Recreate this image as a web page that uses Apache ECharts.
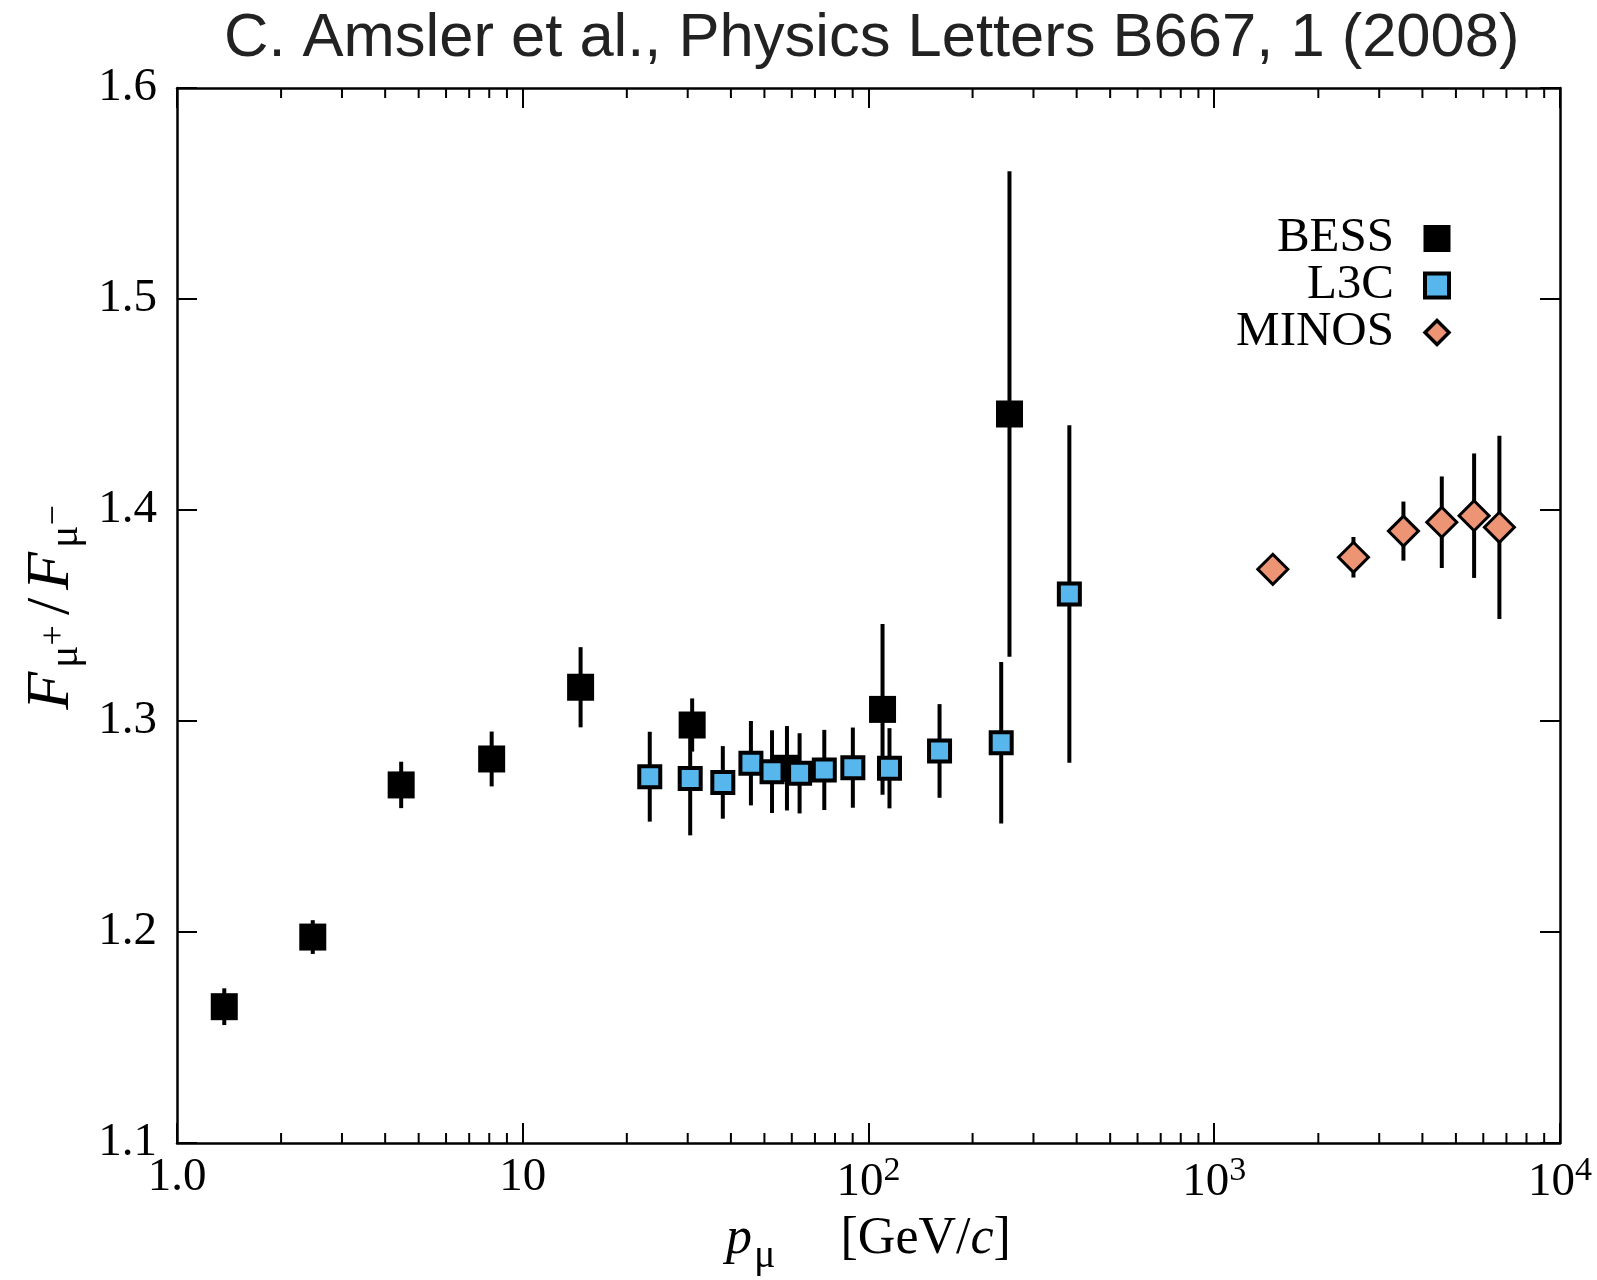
<!DOCTYPE html>
<html>
<head>
<meta charset="utf-8">
<script src="https://cdn.jsdelivr.net/npm/echarts@6/dist/echarts.min.js"></script>
<style>
  html, body { margin: 0; padding: 0; background: #fff; }
  #chart { width: 1597px; height: 1280px; }
</style>
</head>
<body>
<div id="chart"></div>
<script>
// BESS
var bessP   = [1.37, 2.47, 4.45, 8.13, 14.7, 30.9, 58.1, 109.8, 255.7];
var bessR   = [1.1646, 1.1976, 1.2697, 1.2820, 1.3160, 1.2981, 1.2776, 1.3055, 1.4455];
var bessErr = [0.0087, 0.008, 0.011, 0.013, 0.019, 0.0126, 0.02, 0.0405, 0.115];
// L3C
var l3cP   = [23.3, 30.5, 37.9, 45.7, 52.6, 63.2, 74.5, 90.1, 115, 160.5, 242, 381];
var l3cR   = [1.2736, 1.2728, 1.2709, 1.2800, 1.2760, 1.2752, 1.2768, 1.2779, 1.2776, 1.2858, 1.2897, 1.3602];
var l3cErr = [0.0213, 0.027, 0.0172, 0.020, 0.0196, 0.019, 0.019, 0.019, 0.019, 0.0222, 0.0383, 0.08];
// MINOS
var minosP   = [1477, 2527, 3525, 4551, 5644, 6679];
var minosR   = [1.3719, 1.3776, 1.3900, 1.3942, 1.3973, 1.3918];
var minosErr = [0.004, 0.0096, 0.014, 0.0217, 0.0295, 0.0434];

// axis ticks / labels
var xTickVals = [1, 10, 100, 1000, 10000];
var xTickBase = ['1.0', '10', '10', '10', '10'];
var xTickExp  = ['', '', '2', '3', '4'];
var xMinorTicks = [2, 3, 4, 5, 6, 7, 8, 9,
                   20, 30, 40, 50, 60, 70, 80, 90,
                   200, 300, 400, 500, 600, 700, 800, 900,
                   2000, 3000, 4000, 5000, 6000, 7000, 8000, 9000];
var yMin = 1.1, yMax = 1.6, yStep = 0.1;

var SERIF = 'Liberation Serif';

function pts(p, r){
	var out = [];
	for(var i = 0; i < p.length; i++){
		out.push([p[i], r[i]]);
	}
	return out;
}

function errs(p, r, e){
	var out = [];
	for(var i = 0; i < p.length; i++){
		out.push([p[i], r[i] - e[i], r[i] + e[i]]);
	}
	return out;
}

// vertical error bar
function renderErr(params, api){
	var a = api.coord([api.value(0), api.value(1)]);
	var b = api.coord([api.value(0), api.value(2)]);
	return {
		type: 'line',
		shape: {x1: a[0], y1: a[1], x2: b[0], y2: b[1]},
		style: {stroke: '#000', lineWidth: 4}
	};
}

// minor ticks on bottom and top axis
function renderMinor(params, api){
	var b = api.coord([api.value(0), yMin]);
	var t = api.coord([api.value(0), yMax]);
	return {
		type: 'group',
		children: [
			{type: 'line', shape: {x1: b[0], y1: b[1], x2: b[0], y2: b[1] - 10}, style: {stroke: '#000', lineWidth: 2}},
			{type: 'line', shape: {x1: t[0], y1: t[1], x2: t[0], y2: t[1] + 10}, style: {stroke: '#000', lineWidth: 2}}
		]
	};
}

var chart = echarts.init(document.getElementById('chart'));

var axisLine = {lineStyle: {color: '#000', width: 2.5}};
var tick = {inside: true, length: 20, lineStyle: {color: '#000', width: 2}};

var option = {
	animation: false,
	title: {
		text: 'C. Amsler et al., Physics Letters B667, 1 (2008)',
		left: 224,
		top: 8,
		padding: 0,
		textStyle: {fontFamily: 'Liberation Sans', fontWeight: 'normal', fontSize: 61.5, color: '#222'}
	},
	legend: {
		orient: 'vertical',
		align: 'right',
		right: 141,
		top: 209,
		itemWidth: 24,
		itemHeight: 24,
		itemGap: -2,
		selectedMode: false,
		textStyle: {fontFamily: SERIF, fontSize: 49, color: '#000', padding: [0, 26, 0, 0]},
		data: [
			{name: 'BESS', itemStyle: {borderColor: '#000', borderWidth: 3}},
			{name: 'L3C', itemStyle: {borderColor: '#000', borderWidth: 4}},
			{name: 'MINOS', icon: 'diamond', itemStyle: {borderColor: '#000', borderWidth: 3.5}}
		]
	},
	grid: {left: 177, right: 37, top: 88, bottom: 137, outerBoundsMode: 'none'},
	xAxis: [
		{
			type: 'log',
			logBase: 10,
			min: 1,
			max: 10000,
			axisLine: axisLine,
			axisTick: tick,
			splitLine: {show: false},
			name: '{i|p}{sub|μ}{n|     [GeV/}{i|c}{n|]}',
			nameLocation: 'middle',
			nameGap: 59,
			nameTextStyle: {
				rich: {
					i: {fontFamily: SERIF, fontStyle: 'italic', fontSize: 52, color: '#000'},
					n: {fontFamily: SERIF, fontSize: 52, color: '#000'},
					sub: {fontFamily: SERIF, fontSize: 40, color: '#000', padding: [34, 0, 0, 2]}
				}
			},
			axisLabel: {
				margin: 11,
				fontFamily: SERIF,
				fontSize: 47,
				color: '#000',
				formatter: function(v){
					var k = Math.round(Math.log(v) / Math.LN10);
					var s = xTickBase[k];
					if(xTickExp[k]){
						s += '{sup|' + xTickExp[k] + '}';
					}
					return s;
				},
				rich: {
					sup: {fontFamily: SERIF, fontSize: 34, color: '#000', padding: [0, 0, 24, 0]}
				}
			}
		},
		{
			type: 'log',
			logBase: 10,
			min: 1,
			max: 10000,
			position: 'top',
			axisLine: axisLine,
			axisTick: tick,
			axisLabel: {show: false},
			splitLine: {show: false}
		}
	],
	yAxis: [
		{
			type: 'value',
			min: yMin,
			max: yMax,
			interval: yStep,
			axisLine: axisLine,
			axisTick: tick,
			splitLine: {show: false},
			axisLabel: {
				margin: 20,
				fontFamily: SERIF,
				fontSize: 47,
				color: '#000',
				showMinLabel: true,
				showMaxLabel: true,
				formatter: function(v){ return v.toFixed(1); }
			},
			name: '{i0|F}{sub|μ}{sup|+}{n|/}{i|F}{sub|μ}{sup|−}',
			nameLocation: 'middle',
			nameRotate: 90,
			nameGap: 86,
			nameTextStyle: {
				rich: {
					i0: {fontFamily: SERIF, fontStyle: 'italic', fontSize: 62, color: '#000', padding: [0, 0, 0, 18]},
					i: {fontFamily: SERIF, fontStyle: 'italic', fontSize: 62, color: '#000'},
					n: {fontFamily: SERIF, fontSize: 62, color: '#000', padding: [0, 8, 0, 8]},
					sub: {fontFamily: SERIF, fontSize: 42, color: '#000', padding: [30, 0, 0, 4]},
					sup: {fontFamily: SERIF, fontSize: 36, color: '#000', padding: [6, 2, 0, 0]}
				}
			}
		},
		{
			type: 'value',
			min: yMin,
			max: yMax,
			interval: yStep,
			position: 'right',
			axisLine: axisLine,
			axisTick: tick,
			axisLabel: {show: false},
			splitLine: {show: false}
		}
	],
	series: [
		{
			name: 'minor',
			type: 'custom',
			renderItem: renderMinor,
			data: xMinorTicks.map(function(v){ return [v]; }),
			encode: {x: 0},
			clip: false,
			silent: true,
			z: 1
		},
		{
			name: 'BESS err', type: 'custom', renderItem: renderErr,
			data: errs(bessP, bessR, bessErr), encode: {x: 0, y: [1, 2]}, silent: true, z: 2
		},
		{
			name: 'L3C err', type: 'custom', renderItem: renderErr,
			data: errs(l3cP, l3cR, l3cErr), encode: {x: 0, y: [1, 2]}, silent: true, z: 2
		},
		{
			name: 'MINOS err', type: 'custom', renderItem: renderErr,
			data: errs(minosP, minosR, minosErr), encode: {x: 0, y: [1, 2]}, silent: true, z: 2
		},
		{
			name: 'BESS',
			type: 'scatter',
			symbol: 'rect',
			symbolSize: 27,
			itemStyle: {color: '#000', opacity: 1},
			data: pts(bessP, bessR),
			silent: true,
			z: 3
		},
		{
			name: 'L3C',
			type: 'scatter',
			symbol: 'rect',
			symbolSize: 21,
			itemStyle: {color: '#57b7ec', borderColor: '#000', borderWidth: 4, opacity: 1},
			data: pts(l3cP, l3cR),
			silent: true,
			z: 4
		},
		{
			name: 'MINOS',
			type: 'scatter',
			symbol: 'diamond',
			symbolSize: 30,
			itemStyle: {color: '#ec9474', borderColor: '#000', borderWidth: 3, opacity: 1},
			data: pts(minosP, minosR),
			silent: true,
			z: 4
		}
	]
};

chart.setOption(option);
</script>
</body>
</html>
